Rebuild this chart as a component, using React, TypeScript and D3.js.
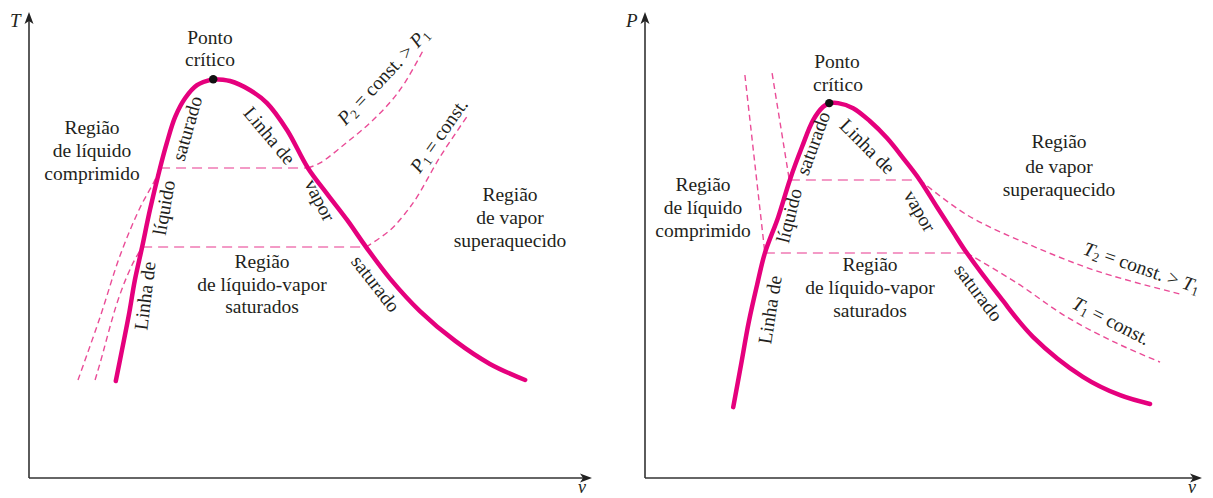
import React from "react";
import * as d3 from "d3";

type Pt = [number, number];

// ---------- T–v diagram (left) : [v, T] in relative units ----------
const tvLiquidLine: Pt[] = [
  [15.5, 21.1], [16.6, 27.8], [17.9, 35.9], [18.9, 43.0], [20.2, 50.2],
  [21.6, 58.3], [23.4, 67.4], [24.6, 72.8], [26.1, 78.5], [27.9, 82.6],
  [30.0, 85.4], [32.9, 86.7],
];
const tvVaporLine: Pt[] = [
  [32.9, 86.7], [35.9, 86.3], [39.5, 84.3], [42.5, 81.5], [46.1, 75.6],
  [49.8, 67.4], [53.4, 61.5], [56.8, 56.1], [60.2, 50.2], [64.5, 43.3],
  [69.8, 36.3], [76.1, 29.8], [82.3, 24.8], [88.6, 21.3],
];
// isobar P2 (higher pressure)
const tvP2Liquid: Pt[] = [[8.75, 21.3], [12.7, 35.0], [16.3, 48.5], [19.8, 58.7], [22.5, 64.8], [23.4, 67.4]];
const tvP2Mixture: Pt[] = [[23.4, 67.4], [49.8, 67.4]];
const tvP2Vapor: Pt[] = [[49.8, 67.4], [52.0, 68.5], [56.4, 72.6], [60.9, 77.2], [64.5, 81.7], [67.1, 85.9], [70.4, 93.0]];
// isobar P1
const tvP1Liquid: Pt[] = [[11.8, 21.3], [12.7, 25.0], [15.9, 38.7], [18.4, 46.3], [20.2, 50.2]];
const tvP1Mixture: Pt[] = [[20.2, 50.2], [60.2, 50.2]];
const tvP1Vapor: Pt[] = [[60.2, 50.2], [64.5, 53.9], [67.1, 57.4], [69.3, 61.1], [73.4, 69.8], [78.4, 78.9]];

// ---------- P–v diagram (right) : [v, P] in relative units ----------
const pvLiquidLine: Pt[] = [
  [15.9, 15.4], [17.3, 24.6], [18.7, 33.9], [20.2, 42.0], [21.6, 48.9],
  [24.0, 56.7], [26.1, 64.8], [28.3, 72.0], [30.3, 77.8], [32.1, 80.7],
  [33.2, 81.5],
];
const pvVaporLine: Pt[] = [
  [33.2, 81.5], [34.8, 81.5], [37.5, 80.4], [40.5, 77.6], [43.6, 73.9],
  [46.8, 69.1], [49.5, 64.8], [52.6, 58.9], [55.5, 53.5], [58.0, 48.9],
  [64.0, 39.3], [69.9, 30.7], [78.9, 22.0], [85.6, 18.0], [91.0, 16.1],
];
// isotherm T2 (higher temperature)
const pvT2Liquid: Pt[] = [[22.9, 88.0], [26.0, 64.8]];
const pvT2Mixture: Pt[] = [[26.1, 64.8], [49.5, 64.8]];
const pvT2Vapor: Pt[] = [[49.5, 64.8], [58.0, 57.2], [69.9, 50.4], [81.9, 44.8], [96.4, 40.0]];
// isotherm T1
const pvT1Liquid: Pt[] = [[18.0, 87.6], [21.6, 48.9]];
const pvT1Mixture: Pt[] = [[21.6, 48.9], [58.0, 48.9]];
const pvT1Vapor: Pt[] = [[58.0, 48.9], [67.0, 42.4], [76.0, 35.0], [85.0, 29.3], [92.8, 25.2]];

const W = 1213;
const H = 498;
const FONT = "'Liberation Serif', 'Times New Roman', serif";
const INK = "#231f20";
const MAGENTA = "#e5007d";
const DASH_PINK = "#ea4c97";
const TIE_PINK = "#f39ac6";
const FS = 19.5;

type Scale = d3.ScaleLinear<number, number>;

function curvePath(pts: Pt[], x: Scale, y: Scale) {
  return d3
    .line<Pt>()
    .x((d) => x(d[0]))
    .y((d) => y(d[1]))
    .curve(d3.curveCatmullRom.alpha(0.5))(pts) as string;
}

function Axes({ x0, y0, xEnd, yTop, yName }: { x0: number; y0: number; xEnd: number; yTop: number; yName: string }) {
  return (
    <g>
      <line x1={x0} y1={y0} x2={x0} y2={yTop + 6} stroke="#333" strokeWidth={1.6} />
      <path d={`M${x0},${yTop} L${x0 - 4.5},${yTop + 12} L${x0},${yTop + 9} L${x0 + 4.5},${yTop + 12} Z`} fill="#222" />
      <line x1={x0} y1={y0} x2={xEnd - 6} y2={y0} stroke="#333" strokeWidth={1.6} />
      <path d={`M${xEnd},${y0} L${xEnd - 12},${y0 - 4.5} L${xEnd - 9},${y0} L${xEnd - 12},${y0 + 4.5} Z`} fill="#222" />
      <text x={x0 - 19} y={yTop + 15} fontFamily={FONT} fontStyle="italic" fontSize={19} fill={INK}>
        {yName}
      </text>
      <text x={xEnd - 14} y={H - 5} fontFamily={FONT} fontStyle="italic" fontSize={18} fill={INK}>
        v
      </text>
    </g>
  );
}

function Lines({ lines }: { lines: [string, number, number][] }) {
  return (
    <g fontFamily={FONT} fontSize={FS} fill={INK} textAnchor="middle">
      {lines.map(([t, cx, by], i) => (
        <text key={i} x={cx} y={by}>
          {t}
        </text>
      ))}
    </g>
  );
}

function Rot({ t, cx, cy, a }: { t: React.ReactNode; cx: number; cy: number; a: number }) {
  return (
    <text
      transform={`translate(${cx},${cy}) rotate(${a})`}
      fontFamily={FONT}
      fontSize={FS}
      fill={INK}
      textAnchor="middle"
      dominantBaseline="middle"
    >
      {t}
    </text>
  );
}

function Sub({ sym, idx }: { sym: string; idx: string }) {
  return (
    <>
      <tspan fontStyle="italic">{sym}</tspan>
      <tspan fontSize={13} dy={4}>
        {idx}
      </tspan>
    </>
  );
}

function Saturation({ liquid, vapor, x, y }: { liquid: Pt[]; vapor: Pt[]; x: Scale; y: Scale }) {
  const crit = liquid[liquid.length - 1];
  return (
    <g>
      <path d={curvePath(liquid, x, y)} fill="none" stroke={MAGENTA} strokeWidth={4.5} strokeLinecap="round" />
      <path d={curvePath(vapor, x, y)} fill="none" stroke={MAGENTA} strokeWidth={4.5} strokeLinecap="round" />
      <circle cx={x(crit[0])} cy={y(crit[1])} r={4.2} fill="#111" />
    </g>
  );
}

function Process({ liq, mix, vap, x, y }: { liq: Pt[]; mix: Pt[]; vap: Pt[]; x: Scale; y: Scale }) {
  return (
    <g fill="none">
      <path d={curvePath(liq, x, y)} stroke={DASH_PINK} strokeWidth={1.4} strokeDasharray="6,4" />
      <path d={curvePath(vap, x, y)} stroke={DASH_PINK} strokeWidth={1.4} strokeDasharray="6,4" />
      <path d={curvePath(mix, x, y)} stroke={TIE_PINK} strokeWidth={2} strokeDasharray="10,6" />
    </g>
  );
}

export default function App() {
  const xL = d3.scaleLinear().domain([0, 100]).range([29, 589]);
  const yL = d3.scaleLinear().domain([0, 100]).range([478, 18]);
  const xR = d3.scaleLinear().domain([0, 100]).range([645, 1200]);
  const yR = d3.scaleLinear().domain([0, 100]).range([478, 18]);

  return (
    <svg width={W} height={H} style={{ position: "absolute", left: 0, top: 0, background: "#fff" }}>
      {/* T–v diagram */}
      <Axes x0={29} y0={478} xEnd={592} yTop={12} yName="T" />
      <Process liq={tvP2Liquid} mix={tvP2Mixture} vap={tvP2Vapor} x={xL} y={yL} />
      <Process liq={tvP1Liquid} mix={tvP1Mixture} vap={tvP1Vapor} x={xL} y={yL} />
      <Saturation liquid={tvLiquidLine} vapor={tvVaporLine} x={xL} y={yL} />
      <Lines
        lines={[
          ["Ponto", 210, 44],
          ["crítico", 210, 66],
          ["Região", 92, 134],
          ["de líquido", 92, 157],
          ["comprimido", 92, 180],
          ["Região", 510, 201],
          ["de vapor", 510, 224],
          ["superaquecido", 510, 247],
          ["Região", 262, 268],
          ["de líquido-vapor", 262, 291],
          ["saturados", 262, 313],
        ]}
      />
      <Rot t="Linha de" cx={147} cy={296} a={-83} />
      <Rot t="líquido" cx={166} cy={208} a={-80} />
      <Rot t="saturado" cx={189} cy={129} a={-74} />
      <Rot t="Linha de" cx={268} cy={137} a={50} />
      <Rot t="vapor" cx={318} cy={201} a={63} />
      <Rot t="saturado" cx={374} cy={285} a={52} />
      <Rot
        t={
          <>
            <Sub sym="P" idx="2" />
            <tspan dy={-4}> = const. &gt; </tspan>
            <Sub sym="P" idx="1" />
          </>
        }
        cx={385}
        cy={78}
        a={-47}
      />
      <Rot
        t={
          <>
            <Sub sym="P" idx="1" />
            <tspan dy={-4}> = const.</tspan>
          </>
        }
        cx={441}
        cy={137}
        a={-55}
      />

      {/* P–v diagram */}
      <Axes x0={645} y0={478} xEnd={1202} yTop={12} yName="P" />
      <Process liq={pvT2Liquid} mix={pvT2Mixture} vap={pvT2Vapor} x={xR} y={yR} />
      <Process liq={pvT1Liquid} mix={pvT1Mixture} vap={pvT1Vapor} x={xR} y={yR} />
      <Saturation liquid={pvLiquidLine} vapor={pvVaporLine} x={xR} y={yR} />
      <Lines
        lines={[
          ["Ponto", 837, 68],
          ["crítico", 838, 91],
          ["Região", 703, 191],
          ["de líquido", 703, 214],
          ["comprimido", 703, 237],
          ["Região", 1059, 148],
          ["de vapor", 1059, 173],
          ["superaquecido", 1059, 196],
          ["Região", 870, 271],
          ["de líquido-vapor", 870, 294],
          ["saturados", 870, 317],
        ]}
      />
      <Rot t="Linha de" cx={772} cy={310} a={-81} />
      <Rot t="líquido" cx={791} cy={216} a={-76} />
      <Rot t="saturado" cx={815} cy={144} a={-70} />
      <Rot t="Linha de" cx={866} cy={148} a={45} />
      <Rot t="vapor" cx={918} cy={212} a={60} />
      <Rot t="saturado" cx={977} cy={294} a={53} />
      <Rot
        t={
          <>
            <Sub sym="T" idx="2" />
            <tspan dy={-4}> = const. &gt; </tspan>
            <Sub sym="T" idx="1" />
          </>
        }
        cx={1141}
        cy={270}
        a={19}
      />
      <Rot
        t={
          <>
            <Sub sym="T" idx="1" />
            <tspan dy={-4}> = const.</tspan>
          </>
        }
        cx={1110}
        cy={323}
        a={27}
      />
    </svg>
  );
}
